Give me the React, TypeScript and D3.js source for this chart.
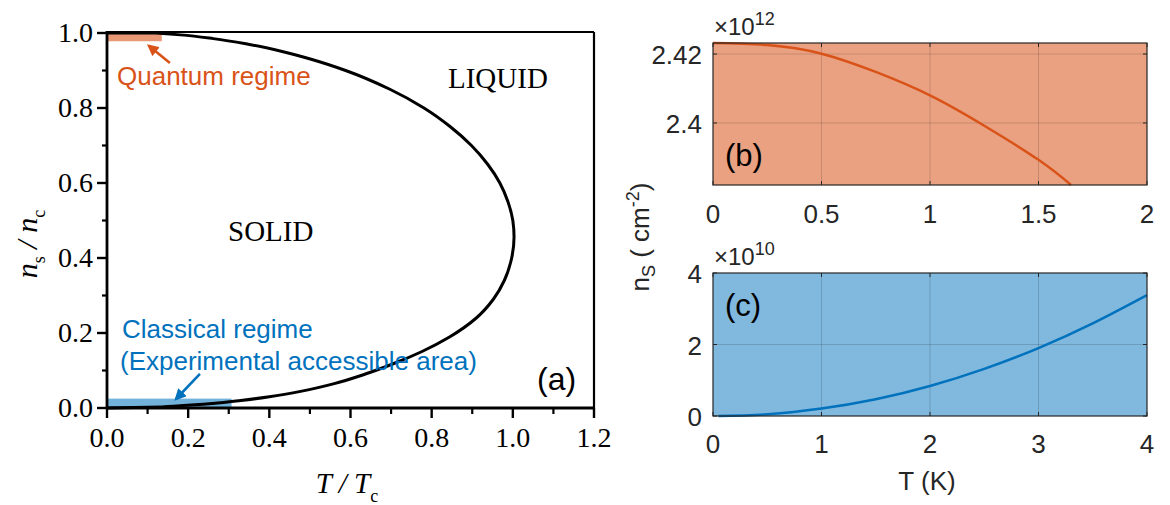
import React from 'react';
import * as d3 from 'd3';

// ---- Panel (a): phase diagram (melting curve, listed from n = 0 up to n = 1) ----
const phaseN = [0, 0.002, 0.006, 0.012, 0.02, 0.03, 0.045, 0.065, 0.09, 0.12, 0.15, 0.19, 0.24, 0.29, 0.34, 0.39, 0.456, 0.5, 0.55, 0.6, 0.65, 0.7, 0.75, 0.8, 0.85, 0.9, 0.93, 0.95, 0.97, 0.985, 0.995, 1.0];
const phaseT = [0, 0.1, 0.18, 0.26, 0.33, 0.4, 0.48, 0.56, 0.635, 0.71, 0.775, 0.845, 0.91, 0.952, 0.979, 0.995, 1.003, 1.0, 0.988, 0.968, 0.938, 0.898, 0.846, 0.781, 0.697, 0.588, 0.503, 0.434, 0.348, 0.262, 0.181, 0.121];
const aXTicks = [0, 0.2, 0.4, 0.6, 0.8, 1.0, 1.2];
const aXMinor = [0.1, 0.3, 0.5, 0.7, 0.9, 1.1];
const aYTicks = [0, 0.2, 0.4, 0.6, 0.8, 1.0];
const aYMinor = [0.1, 0.3, 0.5, 0.7, 0.9];
const quantumT = [0, 0.135];
const quantumN = [0.978, 1.005];
const classicalT = [0, 0.307];
const classicalN = [0, 0.025];
const quantumArrow = [[0.155, 0.92], [0.103, 0.966]];
const classicalArrow = [[0.229, 0.091], [0.17, 0.024]];

// ---- Panel (b): quantum regime ----
const bT = [0, 0.25, 0.5, 0.75, 1.0, 1.25, 1.5, 1.65];
const bN = [2.4232, 2.4226, 2.4201, 2.4148, 2.408, 2.3992, 2.3893, 2.382];
const bXTicks = [0, 0.5, 1, 1.5, 2];
const bYTicks = [2.4, 2.42];

// ---- Panel (c): classical regime ----
const cT = [0.05, 0.5, 1, 1.5, 2, 2.5, 3, 3.5, 4];
const cN = [0, 0.05, 0.21, 0.47, 0.84, 1.32, 1.9, 2.59, 3.38];
const cXTicks = [0, 1, 2, 3, 4];
const cYTicks = [0, 2, 4];

const SERIF = '"Liberation Serif", "Times New Roman", serif';
const SANS = '"Liberation Sans", Arial, Helvetica, sans-serif';
const ORANGE = '#D95319';
const BLUE = '#0072BD';

function fmt1(v: number) {
  return v.toFixed(1);
}

function PanelA() {
  const x = d3.scaleLinear().domain([0, 1.2]).range([107, 594]);
  const y = d3.scaleLinear().domain([0, 1]).range([408, 33]);
  const line = d3
    .line<number>()
    .x((_, i) => x(phaseT[i]))
    .y((_, i) => y(phaseN[i]))
    .curve(d3.curveMonotoneY);
  const pathD = line(phaseN) || '';
  const x0 = x(0), x1 = x(1.2), y0 = y(0), yTop = 32;
  return (
    <g>
      {/* regime boxes */}
      <rect x={x(quantumT[0])} y={y(quantumN[1])} width={x(quantumT[1]) - x(quantumT[0])} height={y(quantumN[0]) - y(quantumN[1])} fill={ORANGE} opacity={0.6} />
      <rect x={x(classicalT[0])} y={y(classicalN[1])} width={x(classicalT[1]) - x(classicalT[0])} height={y(classicalN[0]) - y(classicalN[1])} fill={BLUE} opacity={0.55} />
      {/* curve */}
      <path d={pathD} fill="none" stroke="#000" strokeWidth={3} />
      <line x1={x0} y1={y(1)} x2={x(phaseT[phaseT.length - 1])} y2={y(1)} stroke="#000" strokeWidth={3} />
      {/* frame */}
      <line x1={x0} y1={yTop} x2={x1} y2={yTop} stroke="#000" strokeWidth={2.2} />
      <line x1={x1} y1={yTop} x2={x1} y2={y0} stroke="#000" strokeWidth={2.2} />
      <line x1={x0} y1={yTop - 1} x2={x0} y2={y0 + 1} stroke="#000" strokeWidth={2.8} />
      <line x1={x0 - 1} y1={y0} x2={x1 + 1} y2={y0} stroke="#000" strokeWidth={2.8} />
      {/* ticks */}
      {aXTicks.map((t) => (
        <g key={'ax' + t}>
          <line x1={x(t)} x2={x(t)} y1={y0} y2={y0 + 10} stroke="#000" strokeWidth={2.4} />
          <text x={x(t)} y={447} textAnchor="middle" fontFamily={SERIF} fontSize={28} fill="#000">{fmt1(t)}</text>
        </g>
      ))}
      {aXMinor.map((t) => (
        <line key={'axm' + t} x1={x(t)} x2={x(t)} y1={y0} y2={y0 + 6} stroke="#000" strokeWidth={2.2} />
      ))}
      {aYTicks.map((t) => (
        <g key={'ay' + t}>
          <line x1={x0 - 10} x2={x0} y1={y(t)} y2={y(t)} stroke="#000" strokeWidth={2.4} />
          <text x={93} y={y(t) + 9} textAnchor="end" fontFamily={SERIF} fontSize={28} fill="#000">{fmt1(t)}</text>
        </g>
      ))}
      {aYMinor.map((t) => (
        <line key={'aym' + t} x1={x0 - 5} x2={x0} y1={y(t)} y2={y(t)} stroke="#000" strokeWidth={2.2} />
      ))}
      {/* axis titles */}
      <text x={347} y={493} textAnchor="middle" fontFamily={SERIF} fontSize={29} fontStyle="italic" fill="#000">
        T / T<tspan fontSize={18} fontStyle="normal" dy={9}>c</tspan>
      </text>
      <text transform="translate(37,244) rotate(-90)" textAnchor="middle" fontFamily={SERIF} fontSize={30} fontStyle="italic" fill="#000">
        n<tspan fontSize={18} fontStyle="normal" dy={8}>s</tspan><tspan dy={-8}> / n</tspan><tspan fontSize={18} fontStyle="normal" dy={8}>c</tspan>
      </text>
      {/* region labels */}
      <text x={448} y={88} fontFamily={SERIF} fontSize={29} fill="#000">LIQUID</text>
      <text x={228} y={241} fontFamily={SERIF} fontSize={29} fill="#000">SOLID</text>
      <text x={117} y={85} fontFamily={SANS} fontSize={26} fill={ORANGE}>Quantum regime</text>
      <text x={122} y={338} fontFamily={SANS} fontSize={26} fill={BLUE}>Classical regime</text>
      <text x={120} y={370} fontFamily={SANS} fontSize={26} fill={BLUE}>(Experimental accessible area)</text>
      <text x={537} y={390} fontFamily={SANS} fontSize={32} fill="#000">(a)</text>
      {/* arrows */}
      <line x1={x(quantumArrow[0][0])} y1={y(quantumArrow[0][1])} x2={x(quantumArrow[1][0])} y2={y(quantumArrow[1][1])} stroke={ORANGE} strokeWidth={2.6} markerEnd="url(#headO)" />
      <line x1={x(classicalArrow[0][0])} y1={y(classicalArrow[0][1])} x2={x(classicalArrow[1][0])} y2={y(classicalArrow[1][1])} stroke={BLUE} strokeWidth={2.6} markerEnd="url(#headB)" />
    </g>
  );
}

interface SubProps {
  xs: number[];
  ys: number[];
  xDomain: [number, number];
  yDomain: [number, number];
  yRange: [number, number];
  xTicks: number[];
  yTicks: number[];
  fill: string;
  stroke: string;
  exponent: string;
  label: string;
  labelDy: number;
  xLabelY: number;
}

function SubPanel(p: SubProps) {
  const x = d3.scaleLinear().domain(p.xDomain).range([713, 1147]);
  const y = d3.scaleLinear().domain(p.yDomain).range(p.yRange);
  const line = d3
    .line<number>()
    .x((_, i) => x(p.xs[i]))
    .y((_, i) => y(p.ys[i]))
    .curve(d3.curveNatural);
  const top = p.yRange[1], bot = p.yRange[0];
  const left = 713, right = 1147;
  const clipId = 'clip' + p.label.replace(/[()]/g, '');
  return (
    <g>
      <defs>
        <clipPath id={clipId}>
          <rect x={left} y={top - 2} width={right - left + 2} height={bot - top + 4} />
        </clipPath>
      </defs>
      <rect x={left} y={top} width={right - left} height={bot - top} fill={p.fill} />
      {p.xTicks.filter((t) => t !== p.xDomain[0] && t !== p.xDomain[1]).map((t) => (
        <line key={'gx' + t} x1={x(t)} x2={x(t)} y1={top} y2={bot} stroke="#000" strokeOpacity={0.15} strokeWidth={1} />
      ))}
      {p.yTicks.filter((t) => y(t) > top + 1 && y(t) < bot - 1).map((t) => (
        <line key={'gy' + t} x1={left} x2={right} y1={y(t)} y2={y(t)} stroke="#000" strokeOpacity={0.15} strokeWidth={1} />
      ))}
      <path d={line(p.xs) || ''} fill="none" stroke={p.stroke} strokeWidth={2.5} clipPath={`url(#${clipId})`} />
      <rect x={left} y={top} width={right - left} height={bot - top} fill="none" stroke="#262626" strokeWidth={1.2} />
      {p.xTicks.map((t) => (
        <g key={'tx' + t}>
          <line x1={x(t)} x2={x(t)} y1={bot} y2={bot - 4} stroke="#262626" strokeWidth={1} />
          <line x1={x(t)} x2={x(t)} y1={top} y2={top + 4} stroke="#262626" strokeWidth={1} />
          <text x={x(t)} y={p.xLabelY} textAnchor="middle" fontFamily={SANS} fontSize={26} fill="#262626">{String(t)}</text>
        </g>
      ))}
      {p.yTicks.map((t) => (
        <g key={'ty' + t}>
          <line x1={left} x2={left + 4} y1={y(t)} y2={y(t)} stroke="#262626" strokeWidth={1} />
          <line x1={right} x2={right - 4} y1={y(t)} y2={y(t)} stroke="#262626" strokeWidth={1} />
          <text x={702} y={y(t) + 10} textAnchor="end" fontFamily={SANS} fontSize={26} fill="#262626">{String(t)}</text>
        </g>
      ))}
      <text x={714} y={top - 8} fontFamily={SANS} fontSize={24} fill="#262626">
        {'\u00D7'}10<tspan fontSize={18} dy={-10}>{p.exponent}</tspan>
      </text>
      <text x={725} y={top + p.labelDy} fontFamily={SANS} fontSize={31} fill="#000">{p.label}</text>
    </g>
  );
}

export default function App() {
  return (
    <svg width={1170} height={505} viewBox="0 0 1170 505" style={{ position: 'absolute', left: 0, top: 0, background: '#fff' }}>
      <defs>
        <marker id="headO" viewBox="0 0 10 10" refX={8} refY={5} markerWidth={4.5} markerHeight={4.5} orient="auto" markerUnits="strokeWidth">
          <path d="M0,0 L10,5 L0,10 z" fill={ORANGE} />
        </marker>
        <marker id="headB" viewBox="0 0 10 10" refX={8} refY={5} markerWidth={4.5} markerHeight={4.5} orient="auto" markerUnits="strokeWidth">
          <path d="M0,0 L10,5 L0,10 z" fill={BLUE} />
        </marker>
      </defs>
      <rect x={0} y={0} width={1170} height={505} fill="#fff" />
      <PanelA />
      <SubPanel xs={bT} ys={bN} xDomain={[0, 2]} yDomain={[2.382, 2.4232]} yRange={[185, 43]} xTicks={bXTicks} yTicks={bYTicks} fill="#EAA181" stroke={ORANGE} exponent="12" label="(b)" labelDy={123} xLabelY={223} />
      <SubPanel xs={cT} ys={cN} xDomain={[0, 4]} yDomain={[0, 4]} yRange={[416, 273]} xTicks={cXTicks} yTicks={cYTicks} fill="#80B8DE" stroke={BLUE} exponent="10" label="(c)" labelDy={43} xLabelY={453} />
      <text x={927} y={490} textAnchor="middle" fontFamily={SANS} fontSize={26} fill="#262626">T (K)</text>
      <text transform="translate(649,237) rotate(-90)" textAnchor="middle" fontFamily={SANS} fontSize={26} fill="#262626">
        n<tspan fontSize={18} dy={6}>S</tspan><tspan dy={-6}> ( cm</tspan><tspan fontSize={18} dy={-10}>-2</tspan><tspan dy={10}>)</tspan>
      </text>
    </svg>
  );
}
